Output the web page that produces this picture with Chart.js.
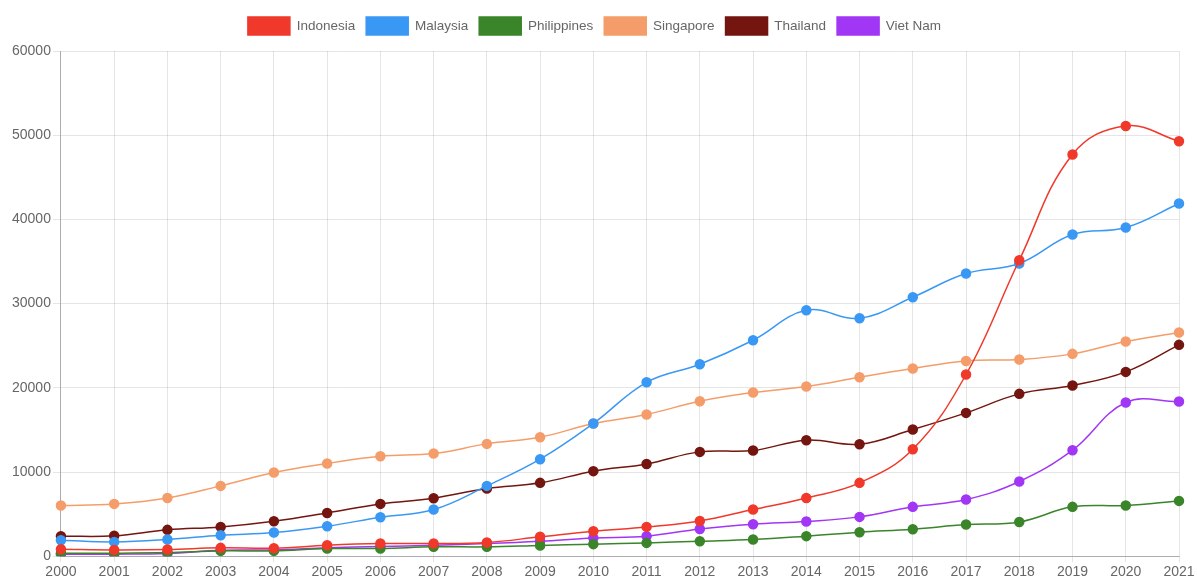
<!DOCTYPE html>
<html>
<head>
<meta charset="utf-8">
<script src="https://cdn.jsdelivr.net/npm/chart.js@4"></script>
<style>
html,body{margin:0;padding:0;background:#fff;}
#wrap{width:1197px;height:588px;}
</style>
</head>
<body>
<div id="wrap"><canvas id="chart" width="1197" height="588"></canvas></div>
<script>
const years=['2000','2001','2002','2003','2004','2005','2006','2007','2008','2009','2010','2011','2012','2013','2014','2015','2016','2017','2018','2019','2020','2021'];
const yTicks=[0,10000,20000,30000,40000,50000,60000];

const indonesia=[830,750,800,990,950,1300,1500,1500,1630,2300,2970,3480,4190,5540,6920,8710,12710,21580,35150,47710,51100,49290];
const malaysia=[1900,1700,1980,2490,2810,3560,4630,5540,8350,11520,15760,20650,22800,25650,29200,28270,30760,33570,34760,38200,39030,41890];
const philippines=[360,360,430,630,630,910,910,1110,1110,1270,1430,1580,1780,1980,2380,2850,3210,3760,4070,5860,6020,6570];
const singapore=[6020,6210,6920,8350,9940,11010,11880,12190,13340,14130,15760,16830,18410,19440,20150,21260,22290,23190,23360,24030,25500,26570];
const thailand=[2380,2420,3130,3480,4160,5140,6210,6890,8040,8710,10100,10960,12390,12550,13780,13300,15050,17020,19280,20270,21890,25100];
const vietnam=[240,240,320,700,750,1000,1150,1300,1500,1780,2170,2380,3240,3800,4120,4670,5860,6730,8870,12590,18250,18370];

const names=['Indonesia','Malaysia','Philippines','Singapore','Thailand','Viet Nam'];
const colors=['#f0392b','#3a98f5','#3a852a','#f59d6a','#74150f','#a236f5'];
const series=[indonesia,malaysia,philippines,singapore,thailand,vietnam];
const font="'Liberation Sans',sans-serif";

const datasets=series.map((d,i)=>({
    label:names[i],
    data:d,
    borderColor:colors[i],
    backgroundColor:colors[i],
    pointBackgroundColor:colors[i],
    pointBorderColor:colors[i],
    borderWidth:1.5,
    pointRadius:4.5,
    tension:0.4,
    fill:false
}));

// a bit more room under the legend
const legendGap={
    id:'legendGap',
    beforeInit(chart){
        const fit=chart.legend.fit;
        chart.legend.fit=function(){fit.bind(chart.legend)();this.height+=6;};
    }
};

new Chart(document.getElementById('chart'),{
    type:'line',
    data:{labels:years,datasets:datasets},
    plugins:[legendGap],
    options:{
        responsive:false,
        animation:false,
        layout:{padding:{left:10,right:18,top:6,bottom:5}},
        plugins:{
            legend:{
                labels:{boxWidth:42,boxHeight:18,color:'#666',font:{family:font,size:13.5},padding:11}
            },
            tooltip:{enabled:false}
        },
        scales:{
            x:{
                grid:{color:'rgba(0,0,0,0.1)',tickLength:6},
                border:{color:'rgba(0,0,0,0.25)'},
                ticks:{color:'#666',font:{family:font,size:14},maxRotation:0,autoSkip:false,padding:2}
            },
            y:{
                min:0,max:60000,
                afterBuildTicks:axis=>{axis.ticks=yTicks.map(v=>({value:v}));},
                grid:{color:'rgba(0,0,0,0.1)',tickLength:8},
                border:{color:'rgba(0,0,0,0.25)'},
                ticks:{color:'#666',font:{family:font,size:14},padding:2,callback:v=>String(v)}
            }
        }
    }
});
</script>
</body>
</html>
